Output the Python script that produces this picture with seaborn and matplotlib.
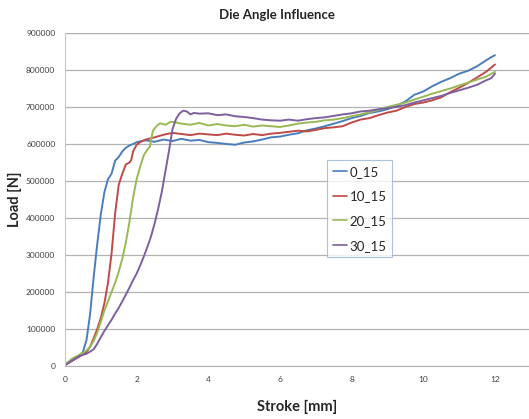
import pandas as pd
import numpy as np
import seaborn as sns
import matplotlib.pyplot as plt

# stroke [mm] / load [N]
x_0_15 = [0, 0.2, 0.4, 0.5, 0.6, 0.7, 0.8, 0.9, 1.0, 1.1, 1.2, 1.3, 1.4, 1.5, 1.6, 1.7, 1.8, 1.9,
          2.0, 2.25, 2.5, 2.75, 3.0, 3.25, 3.5, 3.75, 4.0, 4.25, 4.5, 4.75, 5.0, 5.25, 5.5, 5.75,
          6.0, 6.25, 6.5, 6.75, 7.0, 7.25, 7.5, 7.75, 8.0, 8.25, 8.5, 8.75, 9.0, 9.25, 9.5, 9.75,
          10.0, 10.25, 10.5, 10.75, 11.0, 11.25, 11.5, 11.75, 11.9, 12.0]
y_0_15 = [3000, 15000, 28000, 38000, 70000, 140000, 240000, 330000, 410000, 470000, 505000, 520000,
          555000, 565000, 580000, 590000, 596000, 600000,
          605000, 610000, 606000, 612000, 608000, 614000, 609000, 611000, 605000, 603000, 600000,
          598000, 604000, 607000, 612000, 618000, 620000, 625000, 629000, 637000, 642000, 648000,
          655000, 662000, 670000, 676000, 684000, 688000, 694000, 703000, 715000, 733000,
          742000, 756000, 768000, 778000, 790000, 798000, 810000, 826000, 835000, 840000]

x_10_15 = [0, 0.2, 0.4, 0.6, 0.7, 0.8, 0.9, 1.0, 1.1, 1.2, 1.3, 1.4, 1.5, 1.6, 1.7, 1.8, 1.85, 1.9,
           2.0, 2.1, 2.25, 2.5, 2.75, 3.0, 3.25, 3.5, 3.75, 4.0, 4.25, 4.5, 4.75, 5.0, 5.25, 5.5,
           5.75, 6.0, 6.25, 6.5, 6.75, 7.0, 7.25, 7.5, 7.75, 8.0, 8.25, 8.5, 8.75, 9.0, 9.25, 9.5,
           9.75, 10.0, 10.25, 10.5, 10.75, 11.0, 11.25, 11.5, 11.75, 12.0]
y_10_15 = [3000, 14000, 25000, 38000, 52000, 75000, 100000, 130000, 170000, 225000, 305000, 413000,
           490000, 520000, 545000, 550000, 557000, 580000,
           598000, 605000, 612000, 618000, 625000, 630000, 627000, 624000, 628000, 626000, 624000,
           628000, 625000, 623000, 627000, 624000, 628000, 630000, 633000, 636000, 634000, 638000,
           643000, 645000, 648000, 658000, 666000, 670000, 678000, 685000, 690000, 700000,
           708000, 712000, 718000, 726000, 740000, 752000, 765000, 780000, 795000, 815000]

x_20_15 = [0, 0.2, 0.4, 0.6, 0.7, 0.8, 0.9, 1.0, 1.1, 1.2, 1.3, 1.4, 1.5, 1.6, 1.7, 1.8, 1.9, 2.0,
           2.1, 2.2, 2.3, 2.37, 2.45, 2.55, 2.65, 2.8, 2.95, 3.1, 3.25, 3.5, 3.75, 4.0, 4.25, 4.5,
           4.75, 5.0, 5.25, 5.5, 5.75, 6.0, 6.25, 6.5, 6.75, 7.0, 7.25, 7.5, 7.75, 8.0, 8.25, 8.5,
           8.75, 9.0, 9.25, 9.5, 9.75, 10.0, 10.25, 10.5, 10.75, 11.0, 11.25, 11.5, 11.75, 12.0]
y_20_15 = [4000, 20000, 30000, 42000, 52000, 68000, 90000, 120000, 150000, 175000, 200000, 225000,
           255000, 290000, 335000, 390000, 455000, 505000, 540000, 570000, 585000, 593000, 635000,
           648000, 656000, 652000, 660000, 658000, 655000, 652000, 657000, 650000, 654000, 650000,
           648000, 652000, 647000, 650000, 648000, 646000, 650000, 655000, 658000, 660000, 664000,
           666000, 670000, 675000, 680000, 686000, 692000, 700000, 706000, 712000, 720000, 728000,
           736000, 743000, 750000, 758000, 766000, 774000, 782000, 795000]

x_30_15 = [0, 0.2, 0.4, 0.6, 0.8, 0.9, 1.0, 1.1, 1.2, 1.3, 1.4, 1.5, 1.6, 1.7, 1.8, 1.9, 2.0, 2.1,
           2.2, 2.3, 2.4, 2.5, 2.6, 2.7, 2.8, 2.9, 3.0, 3.1, 3.2, 3.3, 3.4, 3.5, 3.6, 3.75, 4.0,
           4.25, 4.5, 4.75, 5.0, 5.25, 5.5, 5.75, 6.0, 6.25, 6.5, 6.75, 7.0, 7.25, 7.5, 7.75, 8.0,
           8.25, 8.5, 8.75, 9.0, 9.25, 9.5, 9.75, 10.0, 10.25, 10.5, 10.75, 11.0, 11.25, 11.5,
           11.75, 11.9, 12.0]
y_30_15 = [2000, 15000, 27000, 33000, 45000, 60000, 78000, 95000, 110000, 125000, 142000, 157000,
           175000, 193000, 212000, 232000, 250000, 272000, 296000, 322000, 350000, 385000, 425000,
           470000, 525000, 580000, 640000, 668000, 683000, 690000, 688000, 680000, 684000, 682000,
           683000, 678000, 680000, 675000, 673000, 670000, 666000, 664000, 663000, 666000, 663000,
           667000, 670000, 672000, 676000, 680000, 683000, 688000, 690000, 694000, 697000, 700000,
           705000, 712000, 718000, 724000, 730000, 738000, 745000, 752000, 760000, 772000, 778000,
           790000]

series = ["0_15", "10_15", "20_15", "30_15"]
colors = ["#4A7EBB", "#BE4B48", "#98B954", "#7D60A0"]

frames = []
for name, xs, ys in zip(series,
                        [x_0_15, x_10_15, x_20_15, x_30_15],
                        [y_0_15, y_10_15, y_20_15, y_30_15]):
    frames.append(pd.DataFrame({"Stroke": xs, "Load": ys, "series": name}))
df = pd.concat(frames, ignore_index=True)

sns.set_style("white")
plt.rcParams['font.family'] = ['Lato', 'DejaVu Sans']

fig = plt.figure(figsize=(5.29, 4.19), dpi=100)
ax = fig.add_axes([65 / 529, 53 / 419, 464 / 529, 333 / 419])

sns.lineplot(data=df, x="Stroke", y="Load", hue="series", hue_order=series,
             palette=colors, linewidth=1.4, sort=False, estimator=None, ax=ax)

ax.set_xlim(0, 12.95)
ax.set_ylim(0, 900000)
ax.set_xticks(range(0, 13, 2))
ax.set_yticks(range(0, 900001, 100000))
ax.tick_params(axis='both', length=0, labelsize=6, labelcolor='#404040')
ax.tick_params(axis='y', pad=7)
ax.tick_params(axis='x', pad=7)
ax.yaxis.grid(True, color='#b3b3b3', linewidth=0.9)
ax.set_axisbelow(True)
for side in ['top', 'right']:
    ax.spines[side].set_visible(False)
ax.spines['left'].set_color('#c8c8c8')
ax.spines['bottom'].set_color('#b3b3b3')
ax.axhline(900000, color='#b8cce4', linewidth=1.0, zorder=0)

ax.set_xlabel("Stroke [mm]", fontsize=10.5, fontweight='bold', labelpad=12)
ax.set_ylabel("Load [N]", fontsize=10.5, fontweight='bold')
ax.yaxis.set_label_coords((22 - 65) / 464, 0.5)
fig.text(277 / 529, 1 - 15 / 419, "Die Angle Influence", ha='center', va='center',
         fontsize=9.5, fontweight='bold')

leg = ax.legend(loc='upper left', bbox_to_anchor=(327 / 529, 1 - 160 / 419),
                bbox_transform=fig.transFigure, frameon=True, fancybox=False,
                fontsize=9.5, handlelength=1.1, handletextpad=0.15,
                borderpad=0.45, labelspacing=0.95, borderaxespad=0, title=None)
leg.get_frame().set_edgecolor('#95b3d7')
leg.get_frame().set_linewidth(0.8)
for line in leg.get_lines():
    line.set_linewidth(1.2)

fig.savefig("out.png", dpi=100)
